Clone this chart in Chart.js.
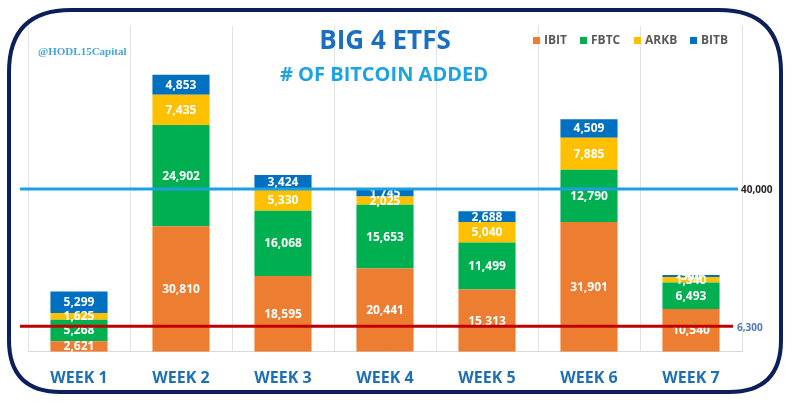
<!DOCTYPE html>
<html>
<head>
<meta charset="utf-8">
<script src="https://cdn.jsdelivr.net/npm/chart.js@4/dist/chart.umd.min.js"></script>
<style>
html,body{margin:0;padding:0;background:#fff;}
#wrap{width:800px;height:405px;position:relative;}
</style>
</head>
<body>
<div id="wrap"><canvas id="c" width="800" height="405"></canvas></div>
<script>
const weeks = ["WEEK 1","WEEK 2","WEEK 3","WEEK 4","WEEK 5","WEEK 6","WEEK 7"];
const ibit = [2621, 30810, 18595, 20441, 15313, 31901, 10540];
const fbtc = [5268, 24902, 16068, 15653, 11499, 12790, 6493];
const arkb = [1625, 7435, 5330, 2025, 5040, 7885, 1340];
const bitb = [5299, 4853, 3424, 1745, 2688, 4509, 500];
const seriesNames = ["IBIT","FBTC","ARKB","BITB"];
const seriesColors = ["#ed7d31","#00b050","#ffc000","#0070c0"];
const refHigh = 40000;
const refLow = 6300;
const titleText = "BIG 4 ETFS";
const subtitleText = "# OF BITCOIN ADDED";
const handleText = "@HODL15Capital";

const fmt = v => v.toLocaleString('en-US');

const overlay = {
  id: 'overlay',
  afterDatasetsDraw(chart) {
    const ctx = chart.ctx;
    ctx.save();
    ctx.fillStyle = '#ffffff';
    ctx.font = 'bold 12px "Open Sans"';
    ctx.textAlign = 'center';
    ctx.textBaseline = 'middle';
    chart.data.datasets.forEach((ds, i) => {
      const meta = chart.getDatasetMeta(i);
      meta.data.forEach((bar, j) => {
        const yc = (bar.y + bar.base) / 2;
        ctx.fillText(fmt(ds.data[j]), bar.x, yc + 0.5);
      });
    });
    const y = chart.scales.y;
    const yH = y.getPixelForValue(refHigh);
    const yL = y.getPixelForValue(refLow);
    ctx.lineWidth = 3;
    ctx.strokeStyle = '#1ba1e2';
    ctx.beginPath(); ctx.moveTo(20, yH); ctx.lineTo(738, yH); ctx.stroke();
    ctx.strokeStyle = '#c00000';
    ctx.beginPath(); ctx.moveTo(20, yL); ctx.lineTo(733, yL); ctx.stroke();
    ctx.textAlign = 'left';
    ctx.font = 'bold 10px "Open Sans"';
    ctx.fillStyle = '#262626';
    ctx.fillText(fmt(refHigh), 741, yH + 1);
    ctx.fillStyle = '#5277bf';
    ctx.fillText(fmt(refLow), 737, yL + 2);
    ctx.restore();
  },
  afterDraw(chart) {
    const ctx = chart.ctx;
    ctx.save();
    ctx.textAlign = 'center';
    ctx.textBaseline = 'middle';
    ctx.fillStyle = '#1a6fbf';
    ctx.font = 'bold 26px "Open Sans"';
    ctx.fillText(titleText, 385, 42);
    ctx.fillStyle = '#1ca3e2';
    ctx.font = 'bold 20px "Open Sans"';
    ctx.fillText(subtitleText, 384, 75);
    ctx.textAlign = 'left';
    ctx.fillStyle = '#45a6dc';
    ctx.font = 'bold 11px "Liberation Serif"';
    ctx.fillText(handleText, 38, 52);
    const lx = [533, 580, 634, 690];
    ctx.font = 'bold 12px "Open Sans"';
    seriesNames.forEach((n, i) => {
      ctx.fillStyle = seriesColors[i];
      ctx.fillRect(lx[i], 37, 7, 7);
      ctx.fillStyle = '#595959';
      ctx.fillText(n, lx[i] + 11, 41);
    });
    ctx.strokeStyle = '#0c1f5b';
    ctx.lineWidth = 4;
    const x0 = 9, y0 = 10, x1 = 781, y1 = 392, r = 62, rb = 52;
    ctx.beginPath();
    ctx.moveTo(x0 + r, y0);
    ctx.lineTo(x1 - r, y0);
    ctx.quadraticCurveTo(x1, y0, x1, y0 + r);
    ctx.lineTo(x1, y1 - rb);
    ctx.quadraticCurveTo(x1, y1, x1 - rb, y1);
    ctx.lineTo(x0 + rb, y1);
    ctx.quadraticCurveTo(x0, y1, x0, y1 - rb);
    ctx.lineTo(x0, y0 + r);
    ctx.quadraticCurveTo(x0, y0, x0 + r, y0);
    ctx.stroke();
    ctx.restore();
  }
};

new Chart(document.getElementById('c'), {
  type: 'bar',
  data: {
    labels: weeks,
    datasets: [ibit, fbtc, arkb, bitb].map((d, i) => ({
      label: seriesNames[i],
      data: d,
      backgroundColor: seriesColors[i],
      borderWidth: 0,
      categoryPercentage: 1,
      barPercentage: 0.56
    }))
  },
  options: {
    responsive: false,
    animation: false,
    layout: { padding: { left: 28, right: 58, top: 26, bottom: 0 } },
    plugins: { legend: { display: false }, tooltip: { enabled: false }, title: { display: false } },
    scales: {
      x: {
        stacked: true,
        grid: { display: true, offset: true, color: '#e3e3e3', lineWidth: 1, drawTicks: false },
        border: { display: true, color: '#d9d9d9' },
        ticks: { color: '#1f6fb5', font: { family: 'Open Sans', weight: 'bold', size: 16 }, padding: 17 }
      },
      y: {
        stacked: true,
        display: false,
        min: 0,
        max: 80000
      }
    }
  },
  plugins: [overlay]
});
</script>
</body>
</html>
